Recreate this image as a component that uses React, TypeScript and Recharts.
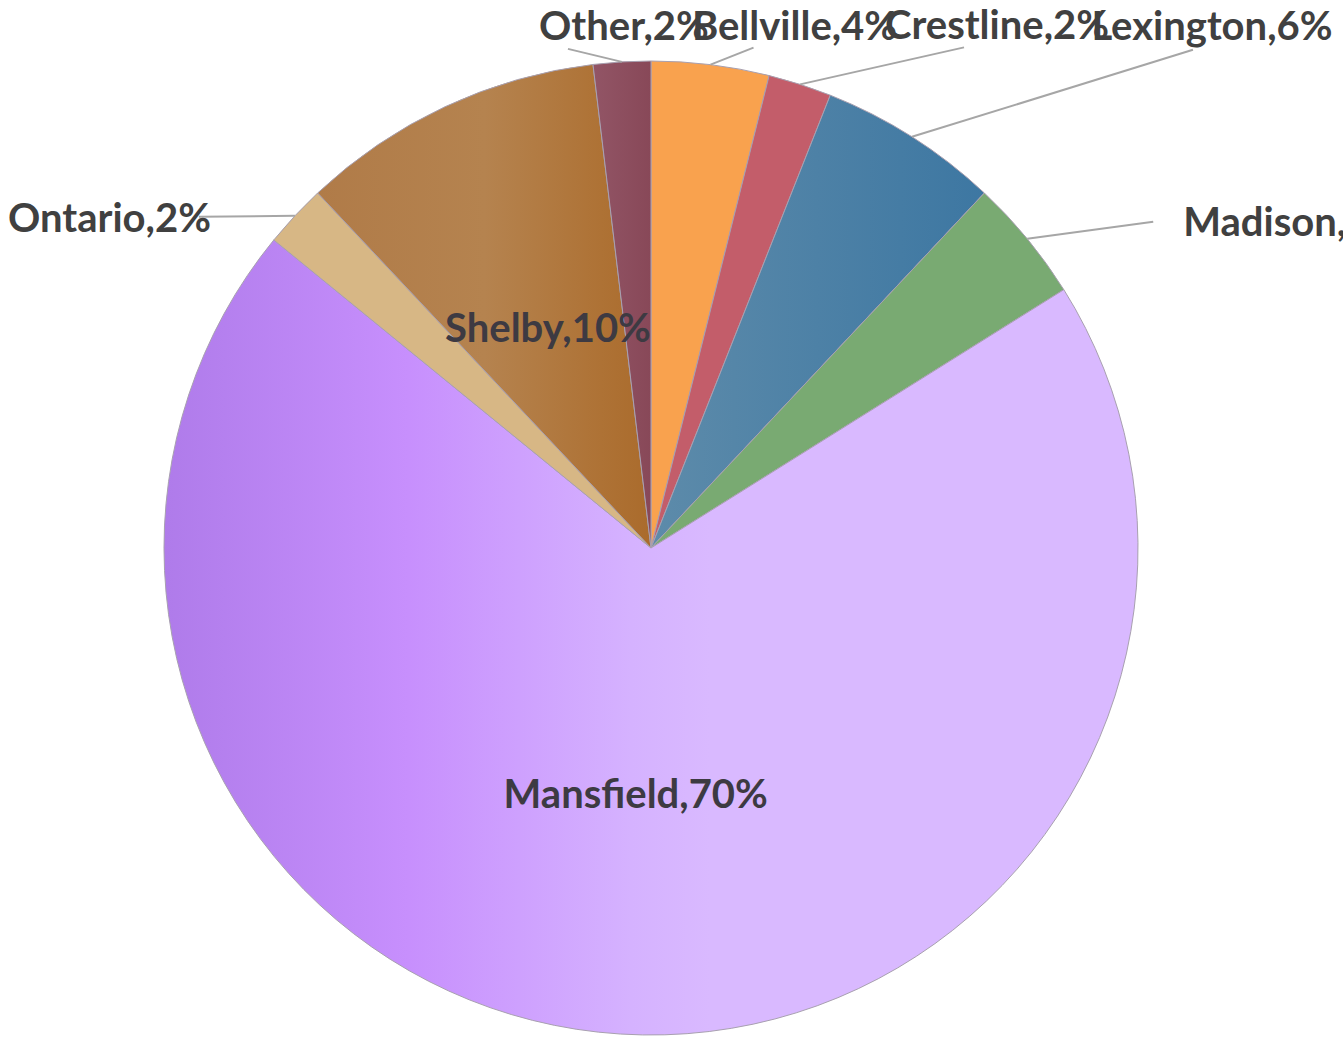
import React from 'react';
import { PieChart, Pie, Cell } from 'recharts';

// share of respondents by town, clockwise from 12 o'clock
const towns = ['Bellville', 'Crestline', 'Lexington', 'Madison', 'Mansfield', 'Ontario', 'Shelby', 'Other'];
const shares = [3.9, 2.1, 6.0, 4.1, 69.8, 2.1, 10.1, 1.9];

const fills = [
    '#F9A24E',
    '#C35D6A',
    'url(#gradLexington)',
    '#79AA72',
    'url(#gradMansfield)',
    '#D7B785',
    'url(#gradShelby)',
    'url(#gradOther)',
];

// label placement: inside labels sit on the mid angle, outside ones are offset from the slice edge
const labelLayout: Record<string, any> = {
    Bellville: { mode: 'out', dx: 84, dy: -25, anchor: 'middle', lx: 43, ly: -17 },
    Crestline: { mode: 'out', dx: 197, dy: -45, anchor: 'middle', lx: 164, ly: -37 },
    Lexington: { mode: 'out', dx: 300, dy: -97, anchor: 'middle', lx: 281, ly: -87 },
    Madison: { mode: 'out', dx: 156, dy: -3, anchor: 'start', lx: 126, ly: -17 },
    Mansfield: { mode: 'in', r: 0.5, dy: 17 },
    Ontario: { mode: 'out', dx: -84, dy: 16, anchor: 'end', lx: -96, ly: 1 },
    Shelby: { mode: 'in', r: 0.5, dy: 15 },
    Other: { mode: 'out', dx: 2, dy: -22, anchor: 'middle', lx: -54, ly: -13 },
};

const data = towns.map((name, i) => ({ name, value: shares[i] }));

const RADIAN = Math.PI / 180;
const FONT = 'Lato, "Noto Sans", sans-serif';
const FONT_SIZE = 40;

const renderLabel = (props: any) => {
    const { cx, cy, midAngle, outerRadius, percent, name } = props;
    const layout = labelLayout[name];
    const text = `${name},${Math.round(percent * 100)}%`;
    const cos = Math.cos(-midAngle * RADIAN);
    const sin = Math.sin(-midAngle * RADIAN);

    if (layout.mode === 'in') {
        const r = outerRadius * layout.r;
        return (
            <text
                x={cx + r * cos}
                y={cy + r * sin + layout.dy}
                textAnchor="middle"
                fill="#3d3a42"
                fontFamily={FONT}
                fontWeight={700}
                fontSize={FONT_SIZE}
            >
                {text}
            </text>
        );
    }

    const ex = cx + outerRadius * cos;
    const ey = cy + outerRadius * sin;
    return (
        <g>
            <line x1={ex} y1={ey} x2={ex + layout.lx} y2={ey + layout.ly} stroke="#a6a6a6" strokeWidth={2} />
            <text
                x={ex + layout.dx}
                y={ey + layout.dy}
                textAnchor={layout.anchor}
                fill="#404040"
                fontFamily={FONT}
                fontWeight={700}
                fontSize={FONT_SIZE}
            >
                {text}
            </text>
        </g>
    );
};

const App = () => {
    return (
        <div style={{ position: 'absolute', left: 0, top: 0, background: '#fff' }}>
            <PieChart width={1343} height={1038}>
                <defs>
                    <linearGradient id="gradMansfield" x1="0" y1="0" x2="1" y2="0">
                        <stop offset="0" stopColor="#AF7BEA" />
                        <stop offset="0.25" stopColor="#C78FFD" />
                        <stop offset="0.48" stopColor="#D5B2FF" />
                        <stop offset="0.56" stopColor="#D9B9FF" />
                        <stop offset="1" stopColor="#D9B9FF" />
                    </linearGradient>
                    <linearGradient id="gradShelby" x1="0" y1="0" x2="1" y2="0">
                        <stop offset="0" stopColor="#B07B48" />
                        <stop offset="0.5" stopColor="#B5834F" />
                        <stop offset="0.85" stopColor="#AE7235" />
                        <stop offset="1" stopColor="#AA6B2C" />
                    </linearGradient>
                    <linearGradient id="gradLexington" x1="0" y1="0" x2="1" y2="0">
                        <stop offset="0" stopColor="#5D8BAA" />
                        <stop offset="1" stopColor="#3D77A2" />
                    </linearGradient>
                    <linearGradient id="gradOther" x1="0" y1="0" x2="1" y2="0">
                        <stop offset="0" stopColor="#925566" />
                        <stop offset="1" stopColor="#884858" />
                    </linearGradient>
                </defs>
                <Pie
                    data={data}
                    dataKey="value"
                    nameKey="name"
                    cx={646}
                    cy={543}
                    outerRadius={487}
                    startAngle={90}
                    endAngle={-270}
                    label={renderLabel}
                    labelLine={false}
                    stroke="#a8a0b0"
                    strokeWidth={1}
                    isAnimationActive={false}
                >
                    {data.map((d, i) => (
                        <Cell key={d.name} fill={fills[i]} />
                    ))}
                </Pie>
            </PieChart>
        </div>
    );
};

export default App;
